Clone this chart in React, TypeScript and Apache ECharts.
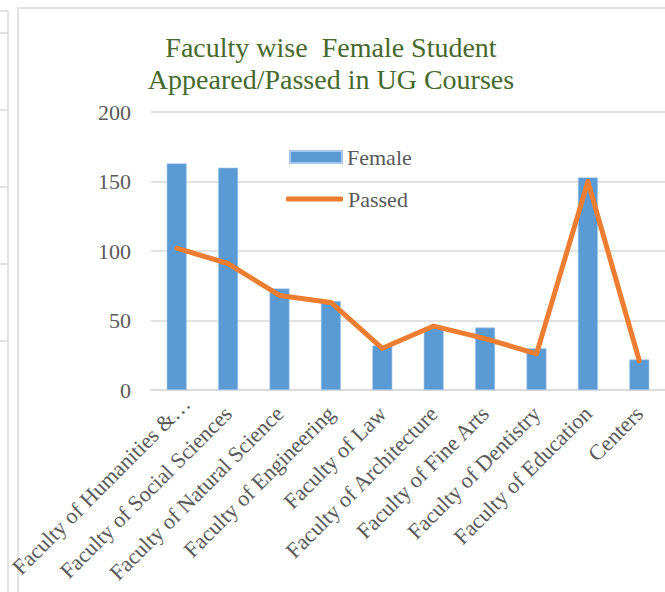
import React, { useEffect, useRef } from "react";
import * as echarts from "echarts";

const categories = [
  "Faculty of Humanities &…",
  "Faculty of Social Sciences",
  "Faculty of Natural Science",
  "Faculty of Engineering",
  "Faculty of Law",
  "Faculty of Architecture",
  "Faculty of Fine Arts",
  "Faculty of Dentistry",
  "Faculty of Education",
  "Centers",
];
const female = [163, 160, 73, 64, 32, 45, 45, 30, 153, 22];
const passed = [102, 91, 68, 63, 30, 46, 37, 26, 150, 21];
const yTicks = { min: 0, max: 200, interval: 50 };

const FONT = "'Liberation Serif', 'Times New Roman', serif";
const GREY = "#595959";
const LINE = "#d9d9d9";

export default function App() {
  const ref = useRef<HTMLDivElement>(null);
  useEffect(() => {
    if (!ref.current) return;
    const chart = echarts.init(ref.current, null, { renderer: "svg" });
    const leftLines = [33, 110, 187, 264, 341].map((y) => ({
      type: "line",
      shape: { x1: 0, y1: y, x2: 8, y2: y },
      style: { stroke: LINE, lineWidth: 1.5 },
    }));
    const catData = categories.map((c, i) =>
      i === 0 ? { value: c, textStyle: { padding: [0, -14, 0, 0] } } : c
    );
    chart.setOption({
      animation: false,
      backgroundColor: "#ffffff",
      title: {
        text: "Faculty wise  Female Student\nAppeared/Passed in UG Courses",
        left: 331,
        textAlign: "center",
        top: 31,
        padding: 0,
        textStyle: {
          fontFamily: FONT,
          fontSize: 28,
          fontWeight: "normal",
          color: "#46692c",
          lineHeight: 32,
        },
      },
      legend: [
        {
          data: [{ name: "Female", icon: "rect" }],
          left: 289,
          top: 146,
          padding: 0,
          itemWidth: 52,
          itemHeight: 12,
          textStyle: { fontFamily: FONT, fontSize: 22, color: GREY },
        },
        {
          data: [{ name: "Passed", icon: "roundRect" }],
          left: 286,
          top: 188,
          padding: 0,
          itemWidth: 57,
          itemHeight: 5,
          textStyle: { fontFamily: FONT, fontSize: 22, color: GREY },
        },
      ],
      grid: { left: 151, top: 112, width: 516, height: 278, containLabel: false },
      xAxis: {
        type: "category",
        data: catData,
        boundaryGap: true,
        axisTick: { show: false },
        axisLine: { lineStyle: { color: LINE, width: 1.5 } },
        axisLabel: {
          interval: 0,
          rotate: 45,
          margin: 20,
          fontFamily: FONT,
          fontSize: 22,
          color: GREY,
        },
      },
      yAxis: {
        type: "value",
        min: yTicks.min,
        max: yTicks.max,
        interval: yTicks.interval,
        axisLine: { show: false },
        axisTick: { show: false },
        splitLine: { lineStyle: { color: LINE, width: 1.5 } },
        axisLabel: { margin: 20, fontFamily: FONT, fontSize: 22, color: GREY },
      },
      series: [
        {
          name: "Female",
          type: "bar",
          data: female,
          barWidth: 20,
          itemStyle: { color: "#5B9BD5", borderColor: "#a9c9ea", borderWidth: 0.6 },
        },
        {
          name: "Passed",
          type: "line",
          data: passed,
          symbol: "none",
          z: 5,
          lineStyle: { color: "#ED7D31", width: 5, cap: "round", join: "round" },
          itemStyle: { color: "#ED7D31" },
        },
      ],
      graphic: [
        {
          type: "rect",
          shape: { x: 18, y: 8, width: 700, height: 700 },
          style: { fill: "none", stroke: LINE, lineWidth: 1.5 },
          silent: true,
        },
        {
          type: "line",
          shape: { x1: 8, y1: 11, x2: 8, y2: 600 },
          style: { stroke: LINE, lineWidth: 1.5 },
        },
        {
          type: "line",
          shape: { x1: 0, y1: 11, x2: 8, y2: 11 },
          style: { stroke: LINE, lineWidth: 1.5 },
        },
        ...leftLines,
      ],
    });
    return () => chart.dispose();
  }, []);
  return (
    <div
      ref={ref}
      style={{ position: "fixed", left: 0, top: 0, width: 665, height: 592 }}
    />
  );
}
